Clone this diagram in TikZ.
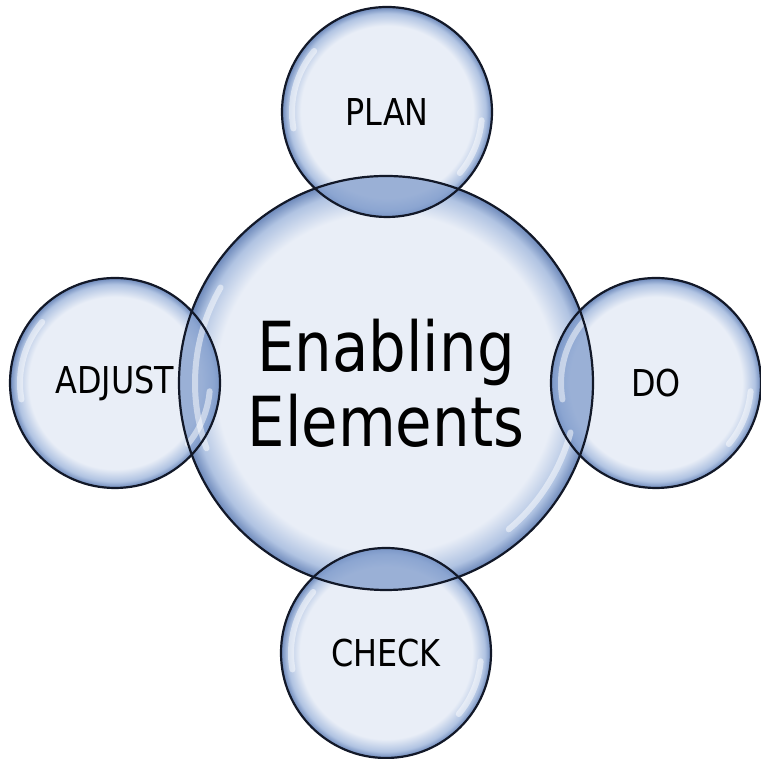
\documentclass[tikz,border=0pt]{standalone}
\usepackage{fontspec}
\setmainfont{DejaVu Sans}[FakeStretch=0.86]
\usetikzlibrary{positioning}
\definecolor{bubblePale}{RGB}{233,238,247}
\definecolor{bubbleMid}{RGB}{176,195,226}
\definecolor{bubbleRim}{RGB}{108,136,186}
\definecolor{bubbleEdge}{RGB}{18,24,40}
\definecolor{lensBlue}{RGB}{128,156,204}
\pgfdeclareradialshading{bubble}{\pgfpoint{0bp}{0bp}}{%
  color(0bp)=(bubblePale); color(20.5bp)=(bubblePale); color(23.5bp)=(bubbleMid);
  color(25bp)=(bubbleRim); color(50bp)=(bubbleRim)}
\tikzset{
  bubble/.style={circle, inner sep=0pt, shading=bubble, align=center, text=black},
  bigbubble/.style={bubble, minimum size=414pt, font=\fontsize{69}{75}\selectfont},
  smallbubble/.style={bubble, minimum size=210pt, font=\fontsize{37}{44}\selectfont},
  lens/.style={fill=lensBlue, fill opacity=0.75},
  gloss/.style={white, line cap=round, line width=6pt, opacity=0.5},
  rimline/.style={draw=bubbleEdge, line width=2.2pt},
}

\begin{document}
\begin{tikzpicture}[x=1pt, y=1pt]
  \useasboundingbox (0,0) rectangle (761,759);
  \fill[white] (0,0) rectangle (761,759);
  \node[bigbubble] (ee) at (386,376) {Enabling\\Elements};
  \foreach \n/\x/\y/\t in {plan/387/647/PLAN, do/656/376/DO,
                            check/386/106/CHECK, adjust/115/376/ADJUST}
    \node[smallbubble] (\n) at (\x,\y) {\t};
  % overlaps with the centre bubble
  \begin{scope}
    \clip (ee.center) circle[radius=207];
    \foreach \n in {plan,do,check,adjust}
      \fill[lens] (\n.center) circle[radius=105];
  \end{scope}
  % highlights
  \draw[gloss] (ee.center) ++(150:191) arc[start angle=150, end angle=200, radius=191];
  \draw[gloss] (ee.center) ++(-15:191) arc[start angle=-15, end angle=-50, radius=191];
  \foreach \n in {plan,do,check,adjust} {
    \draw[gloss] (\n.center) ++(140:95) arc[start angle=140, end angle=190, radius=95];
    \draw[gloss] (\n.center) ++(-5:95) arc[start angle=-5, end angle=-40, radius=95];
  }
  \draw[rimline] (ee.center) circle[radius=207];
  \foreach \n in {plan,do,check,adjust}
    \draw[rimline] (\n.center) circle[radius=105];
\end{tikzpicture}
\end{document}
